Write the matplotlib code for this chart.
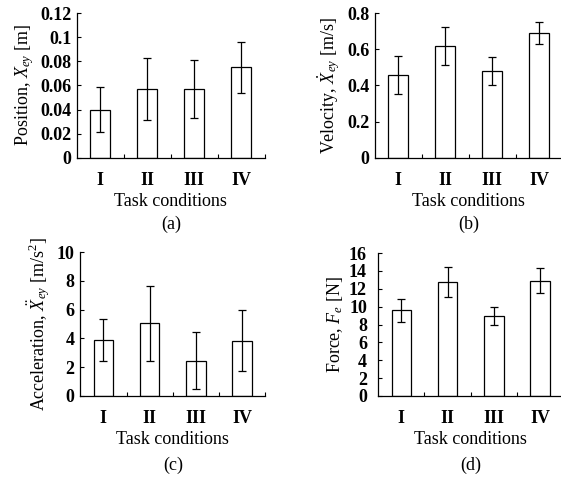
import numpy as np
import matplotlib
matplotlib.use("Agg")
import matplotlib.pyplot as plt

plt.rcParams['font.family'] = ['Liberation Serif', 'DejaVu Serif']
plt.rcParams['mathtext.fontset'] = 'custom'
plt.rcParams['mathtext.rm'] = 'Liberation Serif'
plt.rcParams['mathtext.it'] = 'Liberation Serif:italic'

# data
conditions = ['I', 'II', 'III', 'IV']

pos_mean = [0.040, 0.057, 0.057, 0.075]
pos_err = [0.019, 0.026, 0.024, 0.021]

vel_mean = [0.46, 0.62, 0.48, 0.69]
vel_err = [0.105, 0.105, 0.075, 0.06]

acc_mean = [3.9, 5.05, 2.45, 3.85]
acc_err = [1.45, 2.6, 2.0, 2.1]

force_mean = [9.6, 12.8, 9.0, 12.9]
force_err = [1.3, 1.7, 1.0, 1.4]

panels = [
    (pos_mean, pos_err, r'Position, $X_{ey}$ [m]', (0, 0.12),
     [0, 0.02, 0.04, 0.06, 0.08, 0.1, 0.12], '(a)'),
    (vel_mean, vel_err, r'Velocity, $\dot{X}_{ey}$ [m/s]', (0, 0.8),
     [0, 0.2, 0.4, 0.6, 0.8], '(b)'),
    (acc_mean, acc_err, r'Acceleration, $\ddot{X}_{ey}$ [m/s$^2$]', (0, 10),
     [0, 2, 4, 6, 8, 10], '(c)'),
    (force_mean, force_err, r'Force, $F_e$ [N]', (0, 16),
     list(range(0, 17, 2)), '(d)'),
]

# axes rectangles in figure fractions
rects = [
    [0.137, 0.674, 0.335, 0.299],
    [0.668, 0.674, 0.335, 0.299],
    [0.143, 0.182, 0.330, 0.297],
    [0.674, 0.182, 0.330, 0.295],
]
letter_y = [0.537, 0.537, 0.039, 0.039]
ypads = [4, 4, 4, 8]

fig = plt.figure(figsize=(5.61, 4.84), dpi=100)
x = np.arange(len(conditions))

for (mean, err, ylab, ylim, yticks, letter), r, ly, yp in zip(panels, rects, letter_y, ypads):
    ax = fig.add_axes(r)
    ax.bar(x, mean, width=0.42, color='white', edgecolor='black', linewidth=0.9,
           yerr=err, capsize=3, error_kw=dict(elinewidth=0.9, capthick=0.9, ecolor='black'))
    ax.set_xlim(-0.5, 3.5)
    ax.set_ylim(*ylim)
    ax.set_yticks(yticks)
    ax.set_yticklabels([('%g' % t) for t in yticks], fontweight='bold')
    ax.set_xticks(x)
    ax.set_xticklabels(conditions, fontweight='bold')
    ax.set_xticks([0.5, 1.5, 2.5, 3.5], minor=True)
    ax.tick_params(axis='x', which='major', length=0, pad=10, labelsize=13)
    ax.tick_params(axis='x', which='minor', direction='in', length=3, width=0.8)
    ax.tick_params(axis='y', direction='in', length=3, width=0.8, pad=yp, labelsize=13)
    for s in ['top', 'right']:
        ax.spines[s].set_visible(False)
    for s in ['left', 'bottom']:
        ax.spines[s].set_linewidth(0.9)
    ax.set_xlabel('Task conditions', fontsize=13, labelpad=3)
    ax.set_ylabel(ylab, fontsize=13, labelpad=3)
    fig.text(r[0] + r[2] / 2, ly, letter, ha='center', va='center', fontsize=13)

fig.savefig('out.png', dpi=100)
